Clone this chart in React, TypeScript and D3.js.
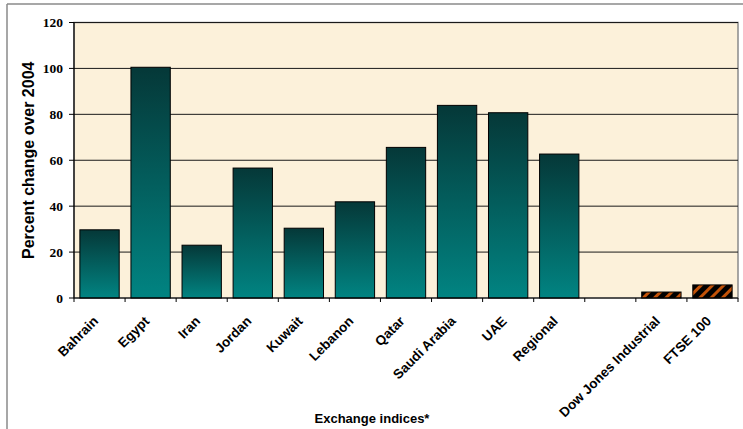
import React from "react";
import * as d3 from "d3";

const categories = [
  "Bahrain", "Egypt", "Iran", "Jordan", "Kuwait", "Lebanon", "Qatar",
  "Saudi Arabia", "UAE", "Regional", "", "Dow Jones Industrial", "FTSE 100",
];
const values: (number | null)[] = [
  29.7, 100.5, 23.0, 56.6, 30.4, 41.9, 65.6, 83.9, 80.7, 62.7, null, 2.6, 5.7,
];
const benchmarks = ["Dow Jones Industrial", "FTSE 100"];
const yTicks = [0, 20, 40, 60, 80, 100, 120];
const yTitle = "Percent change over 2004";
const xTitle = "Exchange indices*";

const W = 743;
const H = 429;
const plot = { left: 74, right: 738, top: 22.5, bottom: 298 };

export default function App() {
  const x = d3
    .scaleBand<string>()
    .domain(categories.map((c, i) => c + "#" + i))
    .range([plot.left, plot.right])
    .paddingInner(0.23)
    .paddingOuter(0.115);
  const step = (plot.right - plot.left) / categories.length;
  const y = d3.scaleLinear().domain([0, 120]).range([plot.bottom, plot.top]);

  return (
    <svg
      width={W}
      height={H}
      style={{ position: "absolute", left: 0, top: 0, background: "#fff" }}
    >
      <defs>
        <linearGradient id="tealGrad" x1="0" y1="0" x2="0" y2="1">
          <stop offset="0%" stopColor="#053838" />
          <stop offset="100%" stopColor="#018482" />
        </linearGradient>
        <pattern
          id="hatch"
          width="8"
          height="8"
          patternUnits="userSpaceOnUse"
          patternTransform="rotate(45)"
        >
          <rect width="8" height="8" fill="#000" />
          <rect width="3" height="8" fill="#c25208" />
        </pattern>
      </defs>

      {/* outer chart border (partially visible) */}
      <line x1={7} y1={4} x2={W} y2={4} stroke="#8a8a8a" strokeWidth={1.5} />
      <line x1={7} y1={4} x2={7} y2={H} stroke="#8a8a8a" strokeWidth={1.5} />

      {/* plot background */}
      <rect
        x={plot.left}
        y={plot.top}
        width={plot.right - plot.left}
        height={plot.bottom - plot.top}
        fill="#fcf1da"
        stroke="#8a8a8a"
        strokeWidth={1.5}
      />

      {/* gridlines */}
      {yTicks
        .filter((t) => t > 0)
        .map((t) => (
          <line
            key={"g" + t}
            x1={plot.left}
            x2={plot.right}
            y1={y(t)}
            y2={y(t)}
            stroke="#1a1a1a"
            strokeWidth={1}
          />
        ))}

      {/* bars */}
      {categories.map((c, i) => {
        const v = values[i];
        if (v == null) return null;
        const key = c + "#" + i;
        const isBench = benchmarks.includes(c);
        return (
          <rect
            key={key}
            x={x(key)}
            y={y(v)}
            width={x.bandwidth()}
            height={y(0) - y(v)}
            fill={isBench ? "url(#hatch)" : "url(#tealGrad)"}
            stroke="#000"
            strokeWidth={1}
          />
        );
      })}

      {/* axes */}
      <line x1={plot.left} x2={plot.left} y1={plot.top} y2={plot.bottom} stroke="#000" strokeWidth={1.2} />
      <line x1={plot.left} x2={plot.right} y1={plot.bottom} y2={plot.bottom} stroke="#000" strokeWidth={1.2} />

      {yTicks.map((t) => (
        <g key={"yt" + t}>
          <line x1={plot.left - 5} x2={plot.left} y1={y(t)} y2={y(t)} stroke="#000" />
          <text
            x={plot.left - 11}
            y={y(t)}
            dy="0.35em"
            textAnchor="end"
            fontFamily="'Liberation Serif', 'Times New Roman', serif"
            fontWeight="bold"
            fontSize={13.5}
            fill="#000"
          >
            {t}
          </text>
        </g>
      ))}

      {d3.range(categories.length + 1).map((i) => (
        <line
          key={"xt" + i}
          x1={plot.left + i * step}
          x2={plot.left + i * step}
          y1={plot.bottom}
          y2={plot.bottom + 4}
          stroke="#000"
        />
      ))}

      {categories.map((c, i) => {
        if (!c) return null;
        const key = c + "#" + i;
        const cx = (x(key) ?? 0) + x.bandwidth() / 2;
        return (
          <text
            key={"xl" + i}
            transform={`translate(${cx - 0.5},${plot.bottom + 24}) rotate(-45)`}
            textAnchor="end"
            fontFamily="'Liberation Sans', Arial, sans-serif"
            fontWeight="bold"
            fontSize={13.5}
            fill="#000"
          >
            {c}
          </text>
        );
      })}

      <text
        transform={`translate(34,${(plot.top + plot.bottom) / 2}) rotate(-90)`}
        textAnchor="middle"
        fontFamily="'Liberation Sans', Arial, sans-serif"
        fontWeight="bold"
        fontSize={16}
        fill="#000"
      >
        {yTitle}
      </text>

      <text
        x={372}
        y={423}
        textAnchor="middle"
        fontFamily="'Liberation Sans', Arial, sans-serif"
        fontWeight="bold"
        fontSize={13}
        fill="#000"
      >
        {xTitle}
      </text>
    </svg>
  );
}
